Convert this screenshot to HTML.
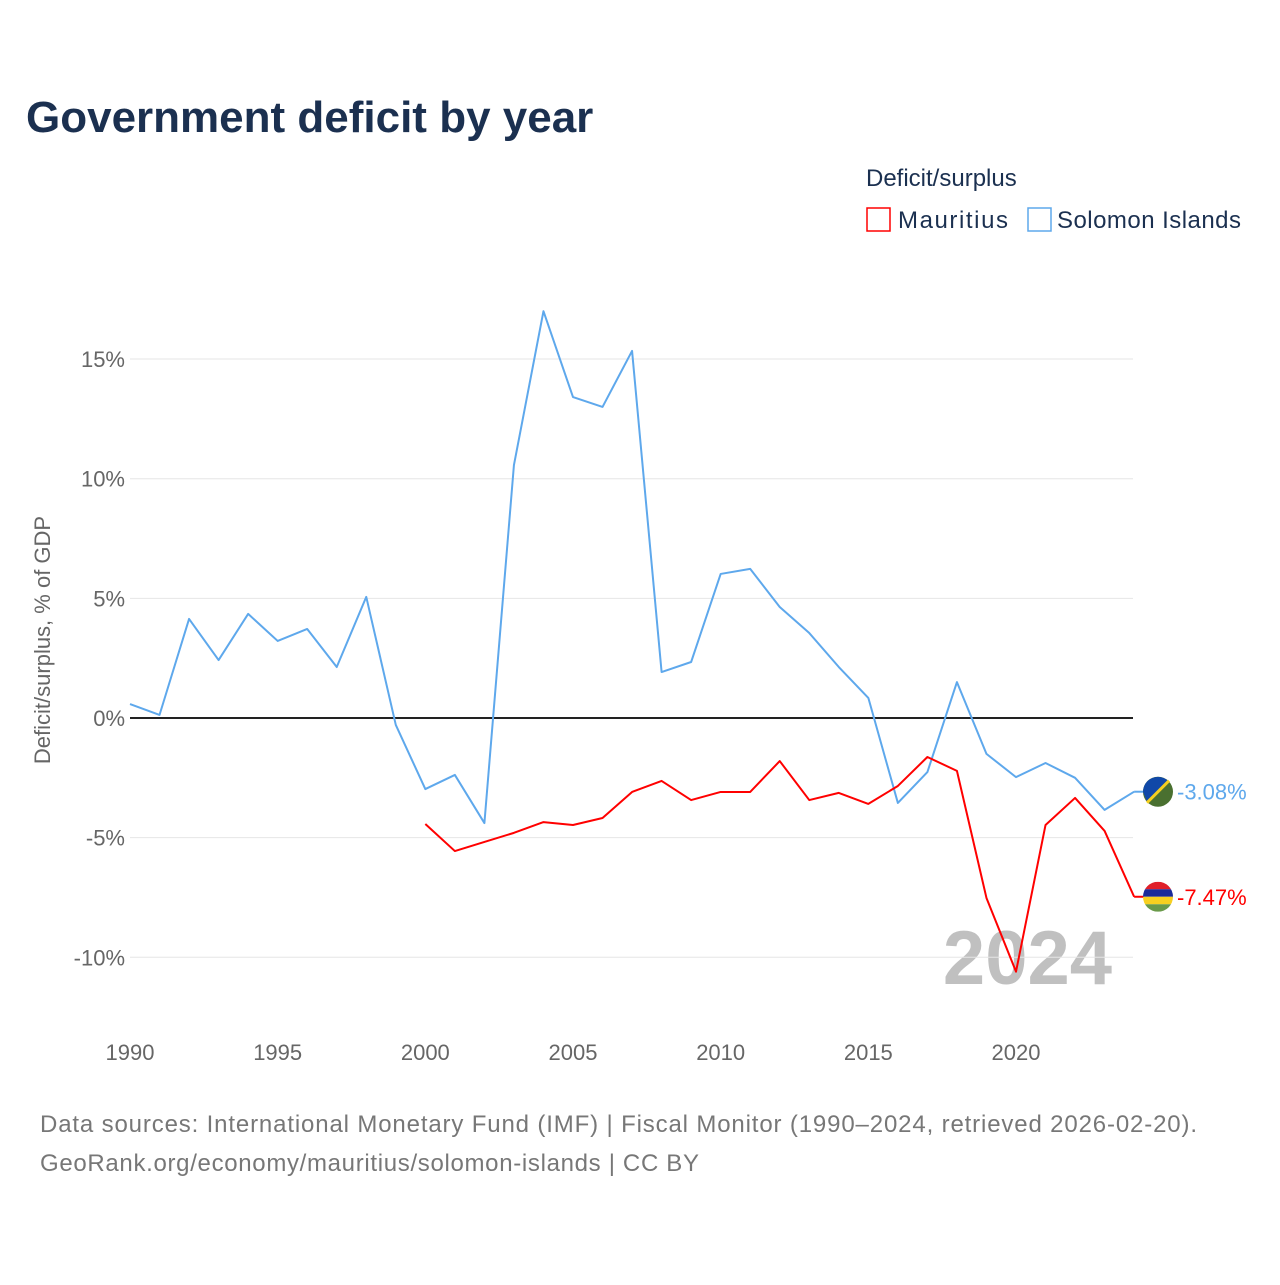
<!DOCTYPE html>
<html><head><meta charset="utf-8">
<style>
body{margin:0;background:#fff;font-family:"Liberation Sans",sans-serif;}
svg text{font-family:"Liberation Sans",sans-serif;}
</style></head>
<body>
<svg id="chart" width="1280" height="1280" xmlns="http://www.w3.org/2000/svg">
<text x="26" y="132" font-size="44" font-weight="bold" fill="#1b3050">Government deficit by year</text>
<text x="866" y="186" font-size="24" fill="#1b3050">Deficit/surplus</text>
<g>
<rect x="867" y="208" width="23" height="23" fill="none" stroke="#ff0000" stroke-width="1.5"/>
<text x="898" y="228" font-size="24" fill="#1b3050" textLength="110">Mauritius</text></g>
<g>
<rect x="1028" y="208" width="23" height="23" fill="none" stroke="#5ea8ec" stroke-width="1.5"/>
<text x="1057" y="228" font-size="24" fill="#1b3050" textLength="184">Solomon Islands</text></g>
<text transform="translate(50,640) rotate(-90)" text-anchor="middle" font-size="22" fill="#666">Deficit/surplus, % of GDP</text>
<text x="1112" y="984" text-anchor="end" font-size="76" font-weight="bold" fill="#c0c0c0">2024</text>
<g id="grid"></g><g id="series"></g>
<text x="40" y="1132" font-size="24" fill="#777" textLength="1157">Data sources: International Monetary Fund (IMF) | Fiscal Monitor (1990–2024, retrieved 2026-02-20).</text>
<text x="40" y="1171" font-size="24" fill="#777" textLength="659">GeoRank.org/economy/mauritius/solomon-islands | CC BY</text>
</svg>
<script>
const yTicks=[15,10,5,0,-5,-10];
const xTicks=[1990,1995,2000,2005,2010,2015,2020];
const solYears=[1990,1991,1992,1993,1994,1995,1996,1997,1998,1999,2000,2001,2002,2003,2004,2005,2006,2007,2008,2009,2010,2011,2012,2013,2014,2015,2016,2017,2018,2019,2020,2021,2022,2023,2024];
const solValues=[0.58,0.13,4.14,2.42,4.35,3.22,3.72,2.13,5.06,-0.29,-2.97,-2.38,-4.39,10.57,17.0,13.41,13.0,15.34,1.92,2.34,6.02,6.23,4.64,3.55,2.13,0.84,-3.55,-2.26,1.5,-1.5,-2.47,-1.88,-2.5,-3.84,-3.08];
const mauYears=[2000,2001,2002,2003,2004,2005,2006,2007,2008,2009,2010,2011,2012,2013,2014,2015,2016,2017,2018,2019,2020,2021,2022,2023,2024];
const mauValues=[-4.43,-5.56,-5.18,-4.8,-4.35,-4.47,-4.18,-3.09,-2.63,-3.43,-3.09,-3.09,-1.8,-3.43,-3.13,-3.59,-2.84,-1.63,-2.21,-7.52,-10.6,-4.47,-3.34,-4.72,-7.47];
const NS="http://www.w3.org/2000/svg";
const xS=y=>130+(y-1990)*(886/30);
const yS=v=>718-v*23.93;
function mk(t,a,p){const e=document.createElementNS(NS,t);for(const k in a)e.setAttribute(k,a[k]);p.appendChild(e);return e;}
const grid=document.getElementById('grid'),ser=document.getElementById('series');
yTicks.forEach(v=>{
 const l=mk('line',{x1:130,x2:1133,y1:yS(v),y2:yS(v),stroke:v===0?'#222':'#e6e6e6','stroke-width':v===0?2:1},grid);
 
 
 const t=mk('text',{x:125,y:yS(v)+8,'text-anchor':'end','font-size':22,fill:'#666'},grid);
 t.textContent=v+'%';
 
 
});
xTicks.forEach(y=>{
 const t=mk('text',{x:xS(y),y:1060,'text-anchor':'middle','font-size':22,fill:'#666'},grid);
 t.textContent=y;
 
 
});
function line(years,vals,color,name,flag){
 const p=mk('polyline',{points:years.map((y,i)=>xS(y)+','+yS(vals[i])).join(' '),fill:'none',stroke:color,'stroke-width':2,'stroke-linejoin':'round'},ser);
 
 
 const lv=vals[vals.length-1],ly=yS(lv),lx=xS(years[years.length-1]);
 mk('line',{x1:lx,x2:1144,y1:ly,y2:ly,stroke:color,'stroke-width':2},ser);
 const g=mk('g',{},ser);
 
 
 flag(g,1158,ly);
 const t=mk('text',{x:1177,y:ly+8,'font-size':22,fill:color},ser);
 t.textContent=lv.toFixed(2)+'%';
 
 
}
line(solYears,solValues,'#5ea8ec','solomon-islands',(g,x,y)=>{
 mk('circle',{cx:x,cy:y,r:15,fill:'#4a7030'},g);
 mk('path',{d:`M${x-15},${y} A15,15 0 0 1 ${x+10},${y-11} L${x-11},${y+10} Z`,fill:'#1048a8'},g);
 mk('line',{x1:x-11,y1:y+11,x2:x+11,y2:y-11,stroke:'#f5d020','stroke-width':3},g);
});
line(mauYears,mauValues,'#ff0000','mauritius',(g,x,y)=>{
 const c=['#e0202a','#1a2a9a','#f8d020','#6a9a4a'];
 const cp=mk('clipPath',{id:'mc'},g);mk('circle',{cx:x,cy:y,r:15},cp);
 c.forEach((col,i)=>mk('rect',{x:x-15,y:y-15+i*7.5,width:30,height:7.5,fill:col,'clip-path':'url(#mc)'},g));
});
</script>
</body></html>
